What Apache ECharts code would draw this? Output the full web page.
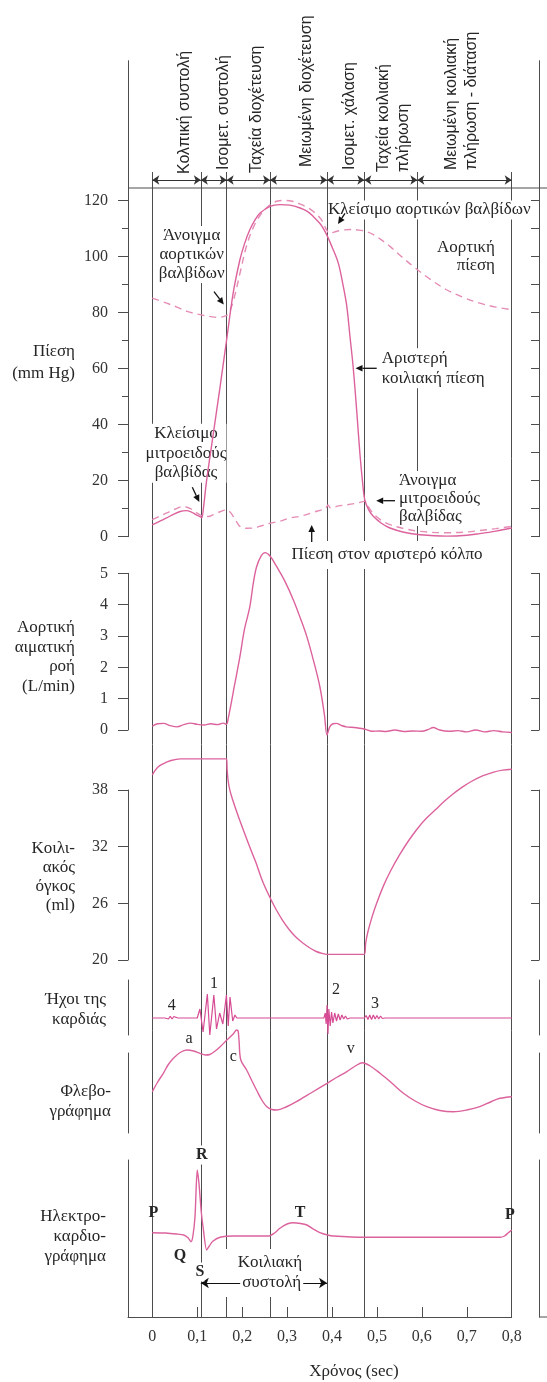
<!DOCTYPE html>
<html>
<head>
<meta charset="utf-8">
<script src="https://cdn.jsdelivr.net/npm/echarts@6/dist/echarts.min.js"></script>
<style>
  html, body { margin: 0; padding: 0; background: #fff; }
  #chart { width: 547px; height: 1382px; }
</style>
</head>
<body>
<div id="chart"></div>
<script>
// ---- Time axis and cardiac-cycle phases (seconds) ----
const timeTicks = [0, 0.1, 0.2, 0.3, 0.4, 0.5, 0.6, 0.7, 0.8];
const phaseBounds = [0, 0.108, 0.1655, 0.262, 0.389, 0.472, 0.59, 0.8];
const phaseNames = [
  'Κολπική συστολή', 'Ισομετ. συστολή', 'Ταχεία διοχέτευση', 'Μειωμένη διοχέτευση',
  'Ισομετ. χάλαση', 'Ταχεία κοιλιακή\nπλήρωση', 'Μειωμένη κοιλιακή\nπλήρωση - διάταση'
];

// ---- Axis tick values ----
const pressureTicks = [0, 20, 40, 60, 80, 100, 120];
const pressureMinorTicks = [10, 30, 50, 70, 90, 110];
const pressureAllTicks = [0, 10, 20, 30, 40, 50, 60, 70, 80, 90, 100, 110, 120];
const flowTicks = [0, 1, 2, 3, 4, 5];
const volumeTicks = [20, 26, 32, 38];

// ---- Pressures (mm Hg) ----
const lvPressure = [[0,4.2],[0.016,5.5],[0.032,6.7],[0.047,8.0],[0.062,9.0],[0.075,9.3],[0.086,8.9],[0.097,7.9],[0.106,7.2],[0.11,6.8],[0.114,10.5],[0.121,20.2],[0.136,37],[0.151,53.7],[0.1655,70.4],[0.18,87],[0.195,98.9],[0.205,104.5],[0.217,109.6],[0.23,113.5],[0.24,115.6],[0.262,118],[0.284,118.6],[0.306,118.4],[0.329,117.4],[0.345,116.2],[0.358,114.4],[0.375,111.5],[0.388,107.9],[0.4,103.5],[0.414,97.7],[0.425,89.5],[0.433,82.2],[0.44,71.5],[0.447,60.8],[0.455,45],[0.462,29.9],[0.468,19.5],[0.473,13.1],[0.482,9.5],[0.492,7.3],[0.51,4.8],[0.529,3.1],[0.56,1.6],[0.596,0.7],[0.655,0.2],[0.7,0.5],[0.729,1.1],[0.765,2.0],[0.8,3.1]];
const aorticPressure = [[0,85.2],[0.032,83.4],[0.055,82],[0.077,80.5],[0.106,79.3],[0.13,78.6],[0.145,78.3],[0.158,78.6],[0.168,79.4],[0.18,84],[0.195,94],[0.21,104],[0.225,110.5],[0.24,114.8],[0.258,118],[0.277,119.8],[0.296,120.1],[0.314,119.7],[0.329,118.8],[0.345,117.6],[0.358,116.2],[0.375,113.5],[0.388,109.6],[0.394,108.3],[0.405,108.8],[0.42,109.4],[0.44,109.7],[0.46,109.5],[0.475,109],[0.492,107.9],[0.51,106],[0.529,103.7],[0.555,100],[0.581,96.5],[0.62,91.8],[0.655,88.2],[0.69,85.6],[0.729,83.4],[0.765,82],[0.8,81.1]];
const atrialPressure = [[0,6.1],[0.016,7.3],[0.032,8.5],[0.05,9.8],[0.069,10.8],[0.085,10.0],[0.099,8.5],[0.114,7.3],[0.125,7.2],[0.136,7.9],[0.152,9.0],[0.1655,9.6],[0.173,8.8],[0.18,7.3],[0.188,5.2],[0.195,3.7],[0.21,3.0],[0.225,3.1],[0.245,4.0],[0.262,4.8],[0.284,5.5],[0.306,6.7],[0.329,7.3],[0.36,8.8],[0.386,10.2],[0.391,11.3],[0.397,10.3],[0.415,11],[0.433,11.4],[0.455,12],[0.473,12.6],[0.482,10.5],[0.492,8.2],[0.51,5.8],[0.529,4.3],[0.56,2.9],[0.596,1.9],[0.655,1.4],[0.7,1.7],[0.729,2.2],[0.765,2.9],[0.8,3.7]];

// ---- Aortic blood flow (L/min) ----
const aorticFlow = [[0,0.12],[0.012,0.2],[0.025,0.21],[0.04,0.14],[0.055,0.1],[0.07,0.17],[0.085,0.22],[0.1,0.18],[0.115,0.16],[0.13,0.2],[0.145,0.17],[0.158,0.22],[0.165,0.18],[0.169,0.37],[0.184,1.5],[0.195,2.34],[0.205,3.2],[0.217,3.93],[0.225,4.7],[0.232,5.2],[0.242,5.55],[0.251,5.66],[0.262,5.55],[0.277,5.21],[0.295,4.75],[0.314,4.15],[0.33,3.55],[0.344,2.98],[0.36,2.15],[0.373,1.38],[0.383,0.5],[0.389,-0.16],[0.395,0.1],[0.402,0.2],[0.41,0.21],[0.42,0.15],[0.432,0.1],[0.45,0.08],[0.472,0.03],[0.49,-0.04],[0.505,-0.03],[0.52,-0.05],[0.54,0.0],[0.56,-0.05],[0.58,-0.03],[0.6,-0.04],[0.615,0.02],[0.625,0.08],[0.64,0.0],[0.66,-0.04],[0.68,-0.02],[0.7,-0.06],[0.72,0.0],[0.74,-0.06],[0.76,-0.02],[0.78,-0.06],[0.8,-0.08]];

// ---- Ventricular volume (ml) ----
const ventricularVolume = [[0,39.6],[0.012,40.4],[0.025,40.8],[0.04,41.1],[0.062,41.3],[0.1,41.3],[0.1655,41.3],[0.1665,40.2],[0.169,38.9],[0.173,37.9],[0.18,36.8],[0.19,35.4],[0.2,34.1],[0.215,32.2],[0.23,30.4],[0.245,28.4],[0.26,26.8],[0.275,25.4],[0.29,24.2],[0.305,23.2],[0.32,22.4],[0.335,21.8],[0.35,21.3],[0.365,20.9],[0.378,20.7],[0.389,20.6],[0.472,20.6],[0.475,21.8],[0.48,23.0],[0.49,24.7],[0.5,26.1],[0.515,27.9],[0.53,29.4],[0.55,31.1],[0.57,32.6],[0.59,33.9],[0.61,35.0],[0.63,35.9],[0.65,36.8],[0.67,37.6],[0.69,38.3],[0.71,38.9],[0.735,39.5],[0.76,39.9],[0.78,40.1],[0.8,40.2]];

// ---- Heart sounds (relative amplitude) ----
const heartSounds = [[0,0],[0.028,0],[0.032,1.5],[0.036,-1],[0.04,1.8],[0.044,-1],[0.048,1.5],[0.052,-0.5],[0.057,0],
  [0.1,0],[0.106,9],[0.113,-14],[0.1225,24],[0.128,-17],[0.137,23],[0.143,-11],[0.15,5],[0.157,-6],[0.165,23],[0.169,-8],[0.173,21],[0.179,-3],[0.184,3],[0.188,0],
  [0.382,0],[0.385,5],[0.387,-6],[0.389,13],[0.391,-16],[0.393,9],[0.396,-8],[0.399,6],[0.402,-5],[0.406,5],[0.41,-3],[0.414,4],[0.418,-2],[0.422,3],[0.426,-1],[0.43,2],[0.434,-1],[0.44,0],
  [0.472,0],[0.476,2.5],[0.48,-1.5],[0.484,3],[0.488,-1.5],[0.492,3],[0.496,-1],[0.5,2.5],[0.504,-1],[0.508,2],[0.512,-0.5],[0.518,0],[0.8,0]];

// ---- Jugular phlebogram (relative amplitude) ----
const phlebogram = [[0,41.3],[0.012,51],[0.0245,59.7],[0.035,68],[0.047,74.7],[0.062,80.5],[0.077,83],[0.092,82],[0.106,79.7],[0.118,78],[0.128,78.5],[0.14,82],[0.151,86.3],[0.166,93],[0.18,99],[0.188,103],[0.191,102],[0.193,93],[0.197,73],[0.21,63],[0.222,52],[0.232,43],[0.245,32],[0.255,26.3],[0.266,23.5],[0.277,23],[0.3,26.5],[0.321,31.3],[0.355,40.5],[0.389,49.7],[0.41,55.5],[0.433,61.3],[0.452,67],[0.468,70.3],[0.485,67],[0.507,59.7],[0.533,50],[0.559,39.7],[0.585,32],[0.611,26.3],[0.64,22.5],[0.67,21.3],[0.7,23],[0.729,26.3],[0.755,31.5],[0.774,34.7],[0.8,36.3]];

// ---- Electrocardiogram (relative amplitude) ----
const ecgTrace = [[0,84.3],[0.03,84],[0.054,83],[0.07,82],[0.08,79],[0.086,75.3],[0.09,80],[0.095,100],[0.1,147],[0.104,133],[0.109,105],[0.113,90],[0.121,67],[0.127,71],[0.134,75.5],[0.151,79.7],[0.18,81],[0.26,81],[0.272,84],[0.284,88.7],[0.3,93],[0.314,94.3],[0.33,93.5],[0.344,92],[0.36,87.5],[0.373,84.3],[0.39,82],[0.403,81],[0.47,79.7],[0.774,79.7],[0.784,81],[0.792,84],[0.8,87]];

// ---------------------------------------------------------------
const SERIF = '"Liberation Serif", "DejaVu Serif", serif';
const SANS = '"Liberation Sans", "DejaVu Sans", sans-serif';
const INK = '#262626';
const RULE = '#4d4d4d';
const PINK = '#dc629d';
const PINK_DASH = '#e58cb5';
const T_MIN = -0.0541, T_MAX = 0.8;

const gridBase = { left: 128, right: 35.3, containLabel: false, outerBoundsMode: 'none' };
const grids = [
  { ...gridBase, top: 60.7, height: 476 },    // pressure
  { ...gridBase, top: 573.3, height: 156.7 }, // flow
  { ...gridBase, top: 790, height: 170 },     // volume
  { ...gridBase, top: 980, height: 55 },      // heart sounds
  { ...gridBase, top: 1053, height: 80 },     // phlebogram
  { ...gridBase, top: 1160, height: 157 },    // ECG
  { ...gridBase, top: 0, height: 1382 }       // overlay for phase rules
];

const xAxes = grids.map((g, i) => ({
  gridIndex: i, type: 'value', min: T_MIN, max: T_MAX, show: i === 5,
  axisLine: { show: true, onZero: false, lineStyle: { color: RULE, width: 1 } },
  axisTick: { show: true, inside: true, length: 10, customValues: timeTicks, lineStyle: { color: RULE } },
  axisLabel: {
    show: true, customValues: timeTicks, margin: 12, color: '#333',
    fontFamily: SERIF, fontSize: 16, formatter: v => String(v).replace('.', ',')
  },
  splitLine: { show: false }
}));

function leftAxis(gi, min, max, ticks, labels, tickLen) {
  return {
    gridIndex: gi, type: 'value', position: 'left', min, max,
    axisLine: { show: true, onZero: false, lineStyle: { color: RULE, width: 1 } },
    axisTick: { show: !!ticks, length: tickLen || 10, customValues: ticks || [], lineStyle: { color: RULE } },
    axisLabel: labels ? { show: true, customValues: labels, margin: 20, color: '#333', fontFamily: SERIF, fontSize: 16 } : { show: false },
    splitLine: { show: false }
  };
}
function rightAxis(gi, min, max, ticks) {
  return {
    gridIndex: gi, type: 'value', position: 'right', offset: 27.3, min, max,
    axisLine: { show: true, onZero: false, lineStyle: { color: RULE, width: 1 } },
    axisTick: { show: !!ticks, inside: true, length: 8, customValues: ticks || [], lineStyle: { color: RULE } },
    axisLabel: { show: false },
    splitLine: { show: false }
  };
}

const yAxes = [
  leftAxis(0, 0, 170, pressureTicks, pressureTicks, 10),         // 0
  Object.assign(leftAxis(0, 0, 170, pressureMinorTicks, null, 6), { axisLine: { show: false, onZero: false } }), // 1
  rightAxis(0, 0, 170, pressureAllTicks),                         // 2
  leftAxis(1, 0, 5, flowTicks, flowTicks, 10),                    // 3
  rightAxis(1, 0, 5, flowTicks),                                  // 4
  leftAxis(2, 20, 38, volumeTicks, volumeTicks, 10),              // 5
  rightAxis(2, 20, 38, volumeTicks),                              // 6
  leftAxis(3, -17, 38, null, null),                               // 7
  rightAxis(3, -17, 38, null),                                    // 8
  leftAxis(4, 0, 80, null, null),                                 // 9
  rightAxis(4, 0, 80, null),                                      // 10
  leftAxis(5, 0, 157, null, null),                                // 11
  rightAxis(5, 0, 157, null),                                     // 12
  { gridIndex: 6, type: 'value', min: 0, max: 1382, inverse: true, show: false } // 13
];

function curve(name, data, xi, yi, color, opts = {}) {
  return {
    name, type: 'line', data, xAxisIndex: xi, yAxisIndex: yi,
    showSymbol: false, symbol: 'none', clip: false, silent: true, z: 20,
    smooth: opts.smooth === undefined ? 0.35 : opts.smooth,
    lineStyle: { color, width: opts.width || 1.4, type: opts.dash || 'solid' }
  };
}

// Rules for each phase boundary (the diastasis boundary stops under the pressure panel)
const ruleLines = phaseBounds.map((t, i) => ({ coords: [[t, 172], [t, i === 6 ? 548 : 1317]] }));
const phaseArrows = phaseBounds.slice(0, -1).map((t, i) => ({ coords: [[t, 180], [phaseBounds[i + 1], 180]] }));
const systoleArrow = [{ coords: [[phaseBounds[1], 1283], [phaseBounds[4], 1283]] }];

const structure = [
  { type: 'lines', coordinateSystem: 'cartesian2d', xAxisIndex: 6, yAxisIndex: 13, data: ruleLines,
    symbol: 'none', silent: true, z: 2, lineStyle: { color: RULE, width: 1, opacity: 1 } },
  { type: 'lines', coordinateSystem: 'cartesian2d', xAxisIndex: 6, yAxisIndex: 13, data: phaseArrows,
    symbol: ['arrow', 'arrow'], symbolSize: 7, silent: true, z: 4, lineStyle: { color: '#333', width: 1, opacity: 1 } },
  { type: 'lines', coordinateSystem: 'cartesian2d', xAxisIndex: 6, yAxisIndex: 13, data: systoleArrow,
    symbol: ['arrow', 'arrow'], symbolSize: 8, silent: true, z: 4, lineStyle: { color: '#111', width: 1.2, opacity: 1 } }
];

// ---- text and pointer helpers ----
function label(x, y, text, o = {}) {
  const style = {
    text, fill: INK, font: `${o.weight || 'normal'} ${o.size || 17}px ${o.family || SERIF}`,
    align: o.align || 'center', verticalAlign: 'middle', lineHeight: o.lh || 19
  };
  if (o.bg) { style.backgroundColor = '#fff'; style.padding = o.pad || 0; }
  return { type: 'text', x, y, rotation: o.rotation || 0, z: 10, silent: true, style };
}
function arrow(x1, y1, x2, y2) {
  const a = Math.atan2(y2 - y1, x2 - x1), L = 7, W = 3.3;
  const bx = x2 - L * Math.cos(a), by = y2 - L * Math.sin(a);
  return [
    { type: 'line', z: 12, silent: true, shape: { x1, y1, x2: bx, y2: by }, style: { stroke: '#111', lineWidth: 1.3 } },
    { type: 'polygon', z: 12, silent: true, shape: { points: [[x2, y2], [bx + W * Math.sin(a), by - W * Math.cos(a)], [bx - W * Math.sin(a), by + W * Math.cos(a)]] }, style: { fill: '#111' } }
  ];
}

const phaseLabelPos = [[185, 174], [223.3, 170], [256.7, 173], [306.7, 167], [350, 170], [393.3, 172], [461.7, 170]];
const graphics = [
  { type: 'line', z: 3, silent: true, shape: { x1: 128, y1: 188, x2: 547, y2: 188 }, style: { stroke: RULE, lineWidth: 1 } },
  { type: 'line', z: 3, silent: true, shape: { x1: 539, y1: 1317, x2: 547, y2: 1317 }, style: { stroke: RULE, lineWidth: 1 } },
  { type: 'rect', z: 3, silent: true, shape: { x: 221, y: 1249, width: 86, height: 48 }, style: { fill: '#fff' } },

  ...phaseNames.map((n, i) => label(phaseLabelPos[i][0], phaseLabelPos[i][1], n,
    { family: SANS, size: 16, align: 'left', lh: 20, rotation: Math.PI / 2 })),

  // panel titles
  label(75, 362.5, 'Πίεση\n(mm Hg)', { align: 'right', lh: 21.5 }),
  label(75, 657, 'Αορτική\nαιματική\nροή\n(L/min)', { align: 'right', lh: 19.8 }),
  label(75, 877, 'Κοιλι-\nακός\nόγκος\n(ml)', { align: 'right', lh: 19.3 }),
  label(106, 1009.7, 'Ήχοι της\nκαρδιάς', { align: 'right', lh: 19.5 }),
  label(111, 1101.7, 'Φλεβο-\nγράφημα', { align: 'right', lh: 20 }),
  label(106, 1236.4, 'Ηλεκτρο-\nκαρδιο-\nγράφημα', { align: 'right', lh: 19.7 }),

  // pressure panel notes
  label(191.7, 254.4, 'Άνοιγμα\nαορτικών\nβαλβίδων', { lh: 19, bg: true }),
  label(186, 453.3, 'Κλείσιμο\nμιτροειδούς\nβαλβίδας', { lh: 19.7, bg: true }),
  label(328, 210, 'Κλείσιμο αορτικών βαλβίδων', { align: 'left', bg: true }),
  label(495, 257, 'Αορτική\nπίεση', { align: 'right', lh: 18 }),
  label(381.7, 368.3, 'Αριστερή\nκοιλιακή πίεση', { align: 'left', lh: 20, bg: true }),
  label(399, 498.5, 'Άνοιγμα\nμιτροειδούς\nβαλβίδας', { align: 'left', lh: 18.4, bg: true }),
  label(387, 555, 'Πίεση στον αριστερό κόλπο', { bg: true, pad: [3, 2, 6, 2] }),
  ...arrow(214, 291.7, 223.8, 304.5),
  ...arrow(192.3, 487.3, 199.3, 502),
  ...arrow(345, 213.3, 338, 224),
  ...arrow(376.7, 368.3, 355.5, 368.3),
  ...arrow(395, 500.7, 376.2, 500.7),
  ...arrow(311.7, 542, 311.7, 525),

  // heart sounds, phlebogram and ECG wave names
  label(171.7, 1006, '4', { size: 16 }),
  label(214, 984, '1', { size: 16 }),
  label(336, 990, '2', { size: 16 }),
  label(375, 1004, '3', { size: 16 }),
  label(189, 1038.3, 'a', { size: 16 }),
  label(233.3, 1056.7, 'c', { size: 16 }),
  label(350.7, 1048.3, 'v', { size: 16 }),
  label(201.7, 1155, 'R', { size: 16, weight: 'bold', bg: true }),
  label(153.3, 1213, 'P', { size: 16, weight: 'bold' }),
  label(180, 1256, 'Q', { size: 16, weight: 'bold' }),
  label(200, 1272, 'S', { size: 16, weight: 'bold', bg: true }),
  label(300, 1213, 'T', { size: 16, weight: 'bold' }),
  label(510, 1215, 'P', { size: 16, weight: 'bold' }),
  label(270, 1263, 'Κοιλιακή', {}),
  label(271.7, 1283, 'συστολή', { bg: true, pad: [0, 2, 0, 2] }),

  label(354, 1372, 'Χρόνος (sec)', {})
];

const chart = echarts.init(document.getElementById('chart'), null, { renderer: 'canvas' });
chart.setOption({
  animation: false,
  backgroundColor: '#fff',
  grid: grids,
  xAxis: xAxes,
  yAxis: yAxes,
  graphic: { elements: graphics },
  series: [
    ...structure,
    curve('Αορτική πίεση', aorticPressure, 0, 0, PINK_DASH, { dash: [7, 5], width: 1.4 }),
    curve('Πίεση στον αριστερό κόλπο', atrialPressure, 0, 0, PINK_DASH, { dash: [7, 5], width: 1.4 }),
    curve('Αριστερή κοιλιακή πίεση', lvPressure, 0, 0, PINK, {}),
    curve('Αορτική αιματική ροή', aorticFlow, 1, 3, PINK, {}),
    curve('Κοιλιακός όγκος', ventricularVolume, 2, 5, PINK, {}),
    curve('Ήχοι της καρδιάς', heartSounds, 3, 7, '#d64b94', { smooth: false, width: 1.2 }),
    curve('Φλεβογράφημα', phlebogram, 4, 9, PINK, {}),
    curve('Ηλεκτροκαρδιογράφημα', ecgTrace, 5, 11, PINK, { smooth: 0.25 })
  ]
});
</script>
</body>
</html>
